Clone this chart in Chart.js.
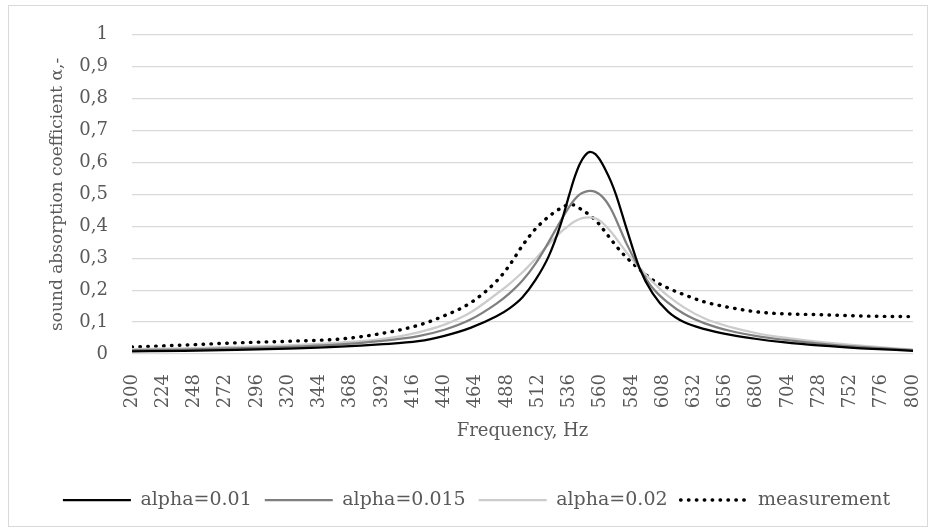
<!DOCTYPE html>
<html>
<head>
<meta charset="utf-8">
<script src="https://cdn.jsdelivr.net/npm/chart.js@4/dist/chart.umd.min.js"></script>
<style>
  body { margin: 0; background: #fff; }
  .chart-container { position: relative; width: 935px; height: 531px; }
  .frame { position: absolute; left: 8px; top: 5px; width: 918px; height: 520px; border: 1px solid #d9d9d9; pointer-events: none; }
</style>
</head>
<body>
<div class="chart-container">
  <canvas id="absorption-chart"></canvas>
  <div class="frame"></div>
</div>
<script>
const freq = [200, 240, 280, 320, 360, 390, 420, 440, 460, 480, 490, 500, 510, 520, 530, 536, 540, 544, 548, 552, 556, 560, 564, 568, 572, 580, 590, 600, 612, 624, 640, 660, 680, 700, 730, 760, 800];

const alpha001 = [0.008, 0.010, 0.013, 0.017, 0.023, 0.030, 0.040, 0.057, 0.082, 0.118, 0.143, 0.178, 0.232, 0.305, 0.415, 0.500, 0.553, 0.595, 0.622, 0.633, 0.626, 0.605, 0.575, 0.540, 0.497, 0.392, 0.268, 0.190, 0.132, 0.100, 0.078, 0.060, 0.047, 0.037, 0.026, 0.018, 0.010];
const alpha0015 = [0.012, 0.014, 0.018, 0.022, 0.030, 0.040, 0.056, 0.076, 0.108, 0.158, 0.190, 0.230, 0.283, 0.350, 0.422, 0.462, 0.484, 0.500, 0.508, 0.511, 0.508, 0.498, 0.480, 0.454, 0.420, 0.345, 0.268, 0.207, 0.160, 0.126, 0.096, 0.072, 0.056, 0.045, 0.032, 0.022, 0.012];
const alpha002 = [0.015, 0.018, 0.022, 0.027, 0.036, 0.046, 0.068, 0.092, 0.130, 0.188, 0.220, 0.256, 0.298, 0.343, 0.384, 0.404, 0.415, 0.423, 0.427, 0.428, 0.425, 0.416, 0.401, 0.383, 0.362, 0.318, 0.270, 0.226, 0.181, 0.146, 0.111, 0.084, 0.065, 0.052, 0.037, 0.026, 0.014];
const measurement = [0.022, 0.028, 0.035, 0.040, 0.047, 0.063, 0.090, 0.120, 0.160, 0.228, 0.278, 0.340, 0.392, 0.430, 0.458, 0.468, 0.466, 0.456, 0.446, 0.433, 0.420, 0.401, 0.380, 0.359, 0.338, 0.302, 0.265, 0.232, 0.206, 0.186, 0.163, 0.145, 0.132, 0.126, 0.123, 0.119, 0.117];

const seriesNames = ['alpha=0.01', 'alpha=0.015', 'alpha=0.02', 'measurement'];

const textColor = '#595959';
const serif = '"DejaVu Serif", serif';

function toPoints(values) {
  return freq.map((f, i) => ({ x: f, y: values[i] }));
}

function lineSet(label, values, color, dotted) {
  return {
    label: label,
    data: toPoints(values),
    borderColor: color,
    backgroundColor: color,
    borderWidth: dotted ? 3.4 : 2.25,
    borderDash: dotted ? [0.5, 7.4] : [],
    borderCapStyle: dotted ? 'round' : 'butt',
    pointRadius: 0,
    pointStyle: 'line',
    cubicInterpolationMode: 'monotone',
    fill: false
  };
}

// legend samples take dash and width from the dataset lines
function legendLabels(chart) {
  const items = Chart.defaults.plugins.legend.labels.generateLabels(chart);
  items.forEach(item => {
    const ds = chart.data.datasets[item.datasetIndex];
    item.lineDash = ds.borderDash;
    item.lineCap = ds.borderCapStyle;
    item.lineWidth = ds.borderWidth;
    item.strokeStyle = ds.borderColor;
  });
  return items;
}

const ctx = document.getElementById('absorption-chart').getContext('2d');
const chart = new Chart(ctx, {
  type: 'line',
  data: {
    datasets: [
      lineSet(seriesNames[0], alpha001, '#000000', false),
      lineSet(seriesNames[1], alpha0015, '#7f7f7f', false),
      lineSet(seriesNames[2], alpha002, '#cccccc', false),
      lineSet(seriesNames[3], measurement, '#000000', true)
    ]
  },
  options: {
    responsive: true,
    maintainAspectRatio: false,
    animation: false,
    layout: { padding: { left: 40, right: 22, top: 34, bottom: 11.5 } },
    plugins: {
      legend: {
        position: 'bottom',
        labels: {
          usePointStyle: true,
          pointStyleWidth: 68,
          padding: 13,
          color: textColor,
          font: { family: serif, size: 19 },
          generateLabels: legendLabels
        }
      },
      tooltip: { enabled: false }
    },
    scales: {
      x: {
        type: 'linear',
        min: 200,
        max: 800,
        afterFit: s => {
          s.height = 123.5;
          s.paddingLeft = 0;
          s.paddingRight = 0;
        },
        grid: { display: false },
        border: { display: false },
        ticks: {
          stepSize: 24,
          autoSkip: false,
          minRotation: 90,
          maxRotation: 90,
          padding: 12,
          color: textColor,
          font: { family: serif, size: 18 }
        },
        title: {
          display: true,
          text: 'Frequency, Hz',
          color: textColor,
          font: { family: serif, size: 18 },
          padding: { top: 0, bottom: 35.7 }
        }
      },
      y: {
        min: 0,
        max: 1,
        afterFit: s => { s.width = 92; },
        grid: { color: '#d9d9d9', lineWidth: 1.3, drawTicks: false },
        border: { display: false },
        ticks: {
          stepSize: 0.1,
          padding: 24,
          color: textColor,
          font: { family: serif, size: 18 },
          callback: v => String(Math.round(v * 10) / 10).replace('.', ',')
        },
        title: {
          display: true,
          text: 'sound absorption coefficient α,-',
          color: textColor,
          font: { family: serif, size: 17 },
          padding: { top: 7, bottom: 0 }
        }
      }
    }
  }
});
</script>
</body>
</html>
